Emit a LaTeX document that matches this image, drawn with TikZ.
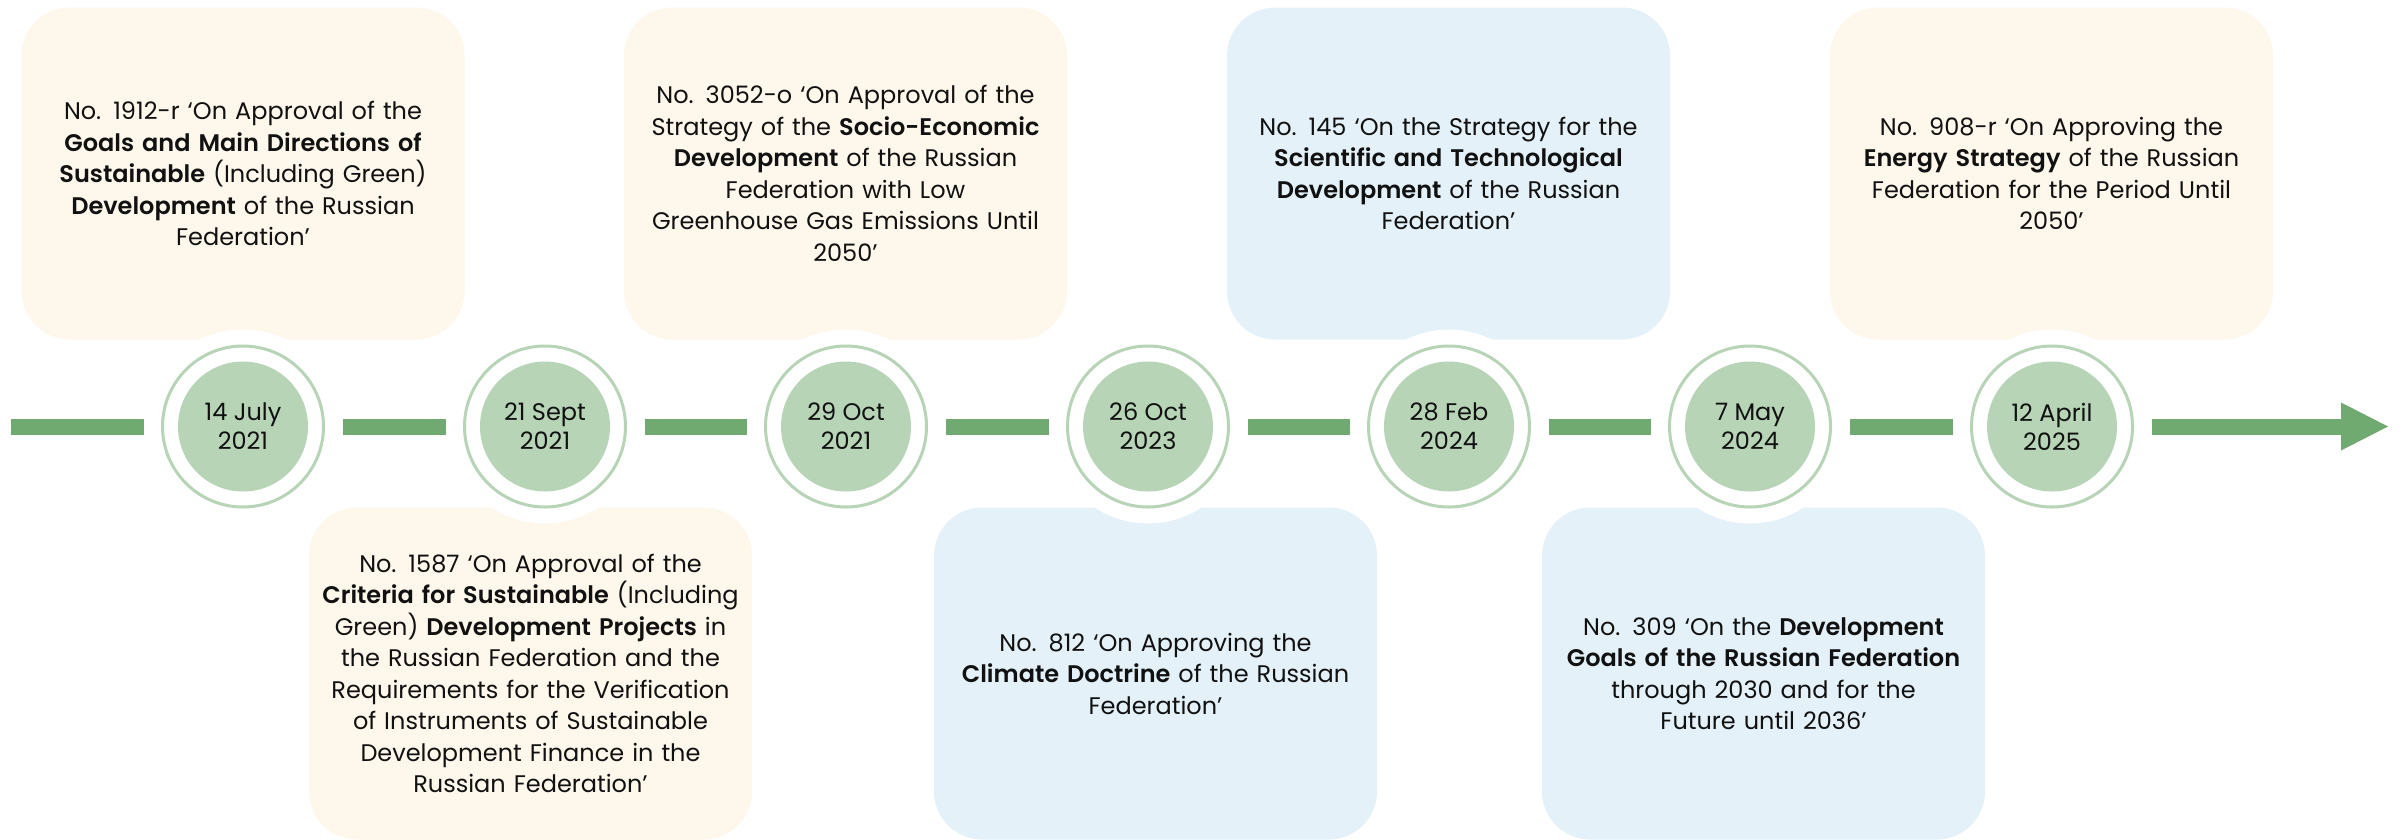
\documentclass[tikz,border=0pt]{standalone}
\usepackage{fontspec}
\setmainfont{Poppins}[BoldFont={Poppins SemiBold}]
\definecolor{beige}{HTML}{FEF7EC}
\definecolor{lblue}{HTML}{E4F1F8}
\definecolor{cgreen}{HTML}{B7D4B7}
\definecolor{bgreen}{HTML}{70AA70}
\definecolor{txt}{HTML}{111111}
\tikzset{
  docbox/.style={rectangle, rounded corners=48pt, minimum width=443pt, minimum height=332pt,
    text width=440pt, align=center, inner sep=0pt, text=txt,
    font=\fontsize{24}{31.5}\selectfont},
  tanbox/.style={docbox, fill=beige},
  bluebox/.style={docbox, fill=lblue},
  datering/.style={circle, draw=cgreen, line width=3pt, fill=white, minimum size=161pt, inner sep=0pt},
  datedot/.style={circle, fill=cgreen, minimum size=130pt, inner sep=0pt, align=center,
    text=txt, font=\fontsize{24}{29}\selectfont},
  bar/.style={line width=16pt, draw=bgreen},
  gapfill/.style={fill=white}
}
\begin{document}
\begin{tikzpicture}[x=1pt, y=-1pt]
\useasboundingbox (0,0) rectangle (2403,839);
% document boxes
\node[tanbox] (t1) at (243,173.5) {No. 1912-r ‘On Approval of the\\
\textbf{Goals and Main Directions of}\\
\textbf{Sustainable} (Including Green)\\
\textbf{Development} of the Russian\\
Federation’};
\node[tanbox] (t2) at (845.5,173.5) {No. 3052-o ‘On Approval of the\\
Strategy of the \textbf{Socio-Economic}\\
\textbf{Development} of the Russian\\
Federation with Low\\
Greenhouse Gas Emissions Until\\
2050’};
\node[bluebox] (t3) at (1448.5,173.5) {No. 145 ‘On the Strategy for the\\
\textbf{Scientific and Technological}\\
\textbf{Development} of the Russian\\
Federation’};
\node[tanbox] (t4) at (2051.5,173.5) {No. 908-r ‘On Approving the\\
\textbf{Energy Strategy} of the Russian\\
Federation for the Period Until\\
2050’};
\node[tanbox] (b1) at (530.5,673.5) {No. 1587 ‘On Approval of the\\
\textbf{Criteria for Sustainable} (Including\\
Green) \textbf{Development Projects} in\\
the Russian Federation and the\\
Requirements for the Verification\\
of Instruments of Sustainable\\
Development Finance in the\\
Russian Federation’};
\node[bluebox] (b2) at (1155.5,673.5) {No. 812 ‘On Approving the\\
\textbf{Climate Doctrine} of the Russian\\
Federation’};
\node[bluebox] (b3) at (1763.5,673.5) {No. 309 ‘On the \textbf{Development}\\
\textbf{Goals of the Russian Federation}\\
through 2030 and for the\\
Future until 2036’};
% white gaps around date circles
\foreach \cx in {243,545,846,1148,1449,1750,2052}
  \fill[gapfill] (\cx,426.5) circle (97pt);
% date circles
\node[datering] (r1) at (243,426.5) {};
\node[datering] (r2) at (545,426.5) {};
\node[datering] (r3) at (846,426.5) {};
\node[datering] (r4) at (1148,426.5) {};
\node[datering] (r5) at (1449,426.5) {};
\node[datering] (r6) at (1750,426.5) {};
\node[datering] (r7) at (2052,426.5) {};
\node[datedot] (d1) at (r1) {14 July\\2021};
\node[datedot] (d2) at (r2) {21 Sept\\2021};
\node[datedot] (d3) at (r3) {29 Oct\\2021};
\node[datedot] (d4) at (r4) {26 Oct\\2023};
\node[datedot] (d5) at (r5) {28 Feb\\2024};
\node[datedot] (d6) at (r6) {7 May\\2024};
\node[datedot] (d7) at (r7) {12 April\\2025};
% timeline
\coordinate (start) at (11,426.5);
\coordinate (tip) at (2388,426.5);
\draw[bar] (start) -- ([xshift=-17.5pt]r1.west);
\draw[bar] ([xshift=17.5pt]r1.east) -- ([xshift=-17.5pt]r2.west);
\draw[bar] ([xshift=17.5pt]r2.east) -- ([xshift=-17.5pt]r3.west);
\draw[bar] ([xshift=17.5pt]r3.east) -- ([xshift=-17.5pt]r4.west);
\draw[bar] ([xshift=17.5pt]r4.east) -- ([xshift=-17.5pt]r5.west);
\draw[bar] ([xshift=17.5pt]r5.east) -- ([xshift=-17.5pt]r6.west);
\draw[bar] ([xshift=17.5pt]r6.east) -- ([xshift=-17.5pt]r7.west);
\draw[bar] ([xshift=17.5pt]r7.east) -- ([xshift=-46pt]tip);
\fill[bgreen] (tip) -- ++(-47,-24) -- ++(0,48) -- cycle;
\end{tikzpicture}
\end{document}
